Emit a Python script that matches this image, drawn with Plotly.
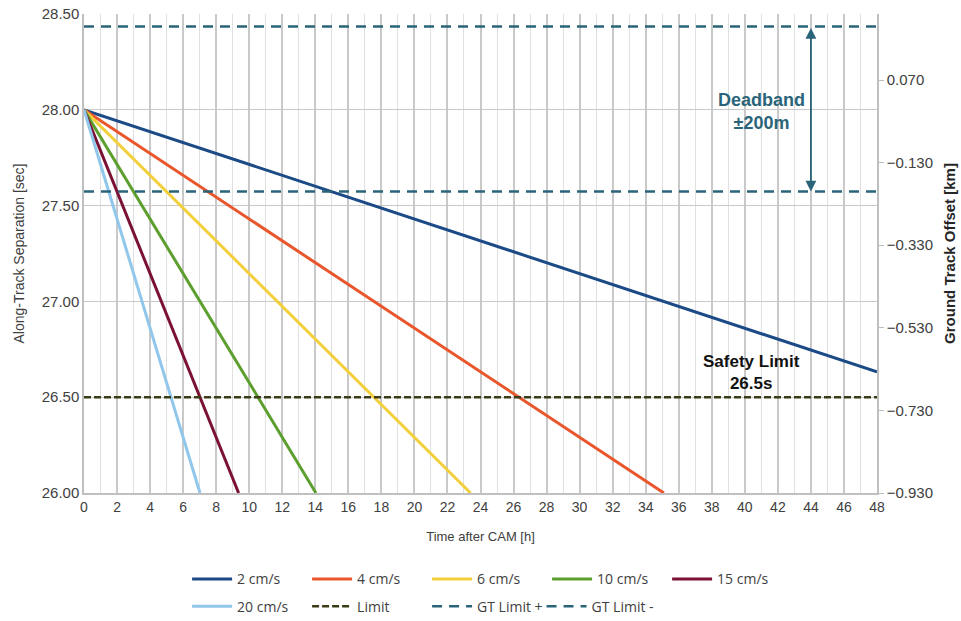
import plotly.graph_objects as go

# Drift of along-track separation after the CAM for each differential velocity
series_names = ["2 cm/s", "4 cm/s", "6 cm/s", "10 cm/s", "15 cm/s", "20 cm/s"]
series_colors = ["#1b4a86", "#e9562b", "#f3cf3c", "#5c9f2e", "#7b1233", "#90c7ea"]
start_time = [0, 0, 0, 0, 0, 0]
start_sep = [28.0, 28.0, 28.0, 28.0, 28.0, 28.0]
end_time = [48.0, 35.1, 23.4, 14.04, 9.36, 7.02]
end_sep = [26.632, 26.0, 26.0, 26.0, 26.0, 26.0]

limit_time = [0, 48]
limit_sep = [26.5, 26.5]

gt_time = [0, 48]
gt_plus = [0.2, 0.2]      # km
gt_minus = [-0.2, -0.2]   # km

x_ticks = list(range(0, 49, 2))
left_ticks = [26.0, 26.5, 27.0, 27.5, 28.0, 28.5]
right_ticks = [-0.93, -0.73, -0.53, -0.33, -0.13, 0.07]
right_range = [-0.93, 0.23]

FONT = "Liberation Sans, Arial, sans-serif"
LEG_FONT = "Open Sans, sans-serif"
GT_COLOR = "#2a6479"
TXT = "#404040"

fig = go.Figure()

# first legend row holds the first five velocities, the rest go on row two
for i, (name, col, x0, y0, x1, y1) in enumerate(
        zip(series_names, series_colors, start_time, start_sep, end_time, end_sep)):
    fig.add_trace(go.Scatter(x=[x0, x1], y=[y0, y1], mode="lines", name=name,
                             legend="legend" if i < 5 else "legend2",
                             line=dict(color=col, width=3)))

fig.add_trace(go.Scatter(x=limit_time, y=limit_sep, mode="lines", name="Limit", legend="legend2",
                         line=dict(color="#3b3b16", width=2.5, dash="7px,3px")))
fig.add_trace(go.Scatter(x=gt_time, y=gt_plus, mode="lines", name="GT Limit +", yaxis="y2",
                         legend="legend2",
                         line=dict(color=GT_COLOR, width=2.5, dash="10px,7px")))
fig.add_trace(go.Scatter(x=gt_time, y=gt_minus, mode="lines", name="GT Limit -", yaxis="y2",
                         legend="legend3",
                         line=dict(color=GT_COLOR, width=2.5, dash="10px,7px")))

# Deadband arrow between the ground-track limits
fig.add_annotation(x=44, y=gt_minus[0], ax=44, ay=gt_plus[0], xref="x", yref="y2",
                   axref="x", ayref="y2", text="", showarrow=True,
                   arrowhead=2, arrowside="end+start", arrowsize=1.2, arrowwidth=1.8,
                   arrowcolor=GT_COLOR)
fig.add_annotation(x=41.0, y=27.99, xref="x", yref="y", text="<b>Deadband<br>±200m</b>",
                   showarrow=False, font=dict(family=FONT, size=18, color=GT_COLOR),
                   align="center")
fig.add_annotation(x=40.4, y=26.63, xref="x", yref="y", text="<b>Safety Limit<br>26.5s</b>",
                   showarrow=False, font=dict(family=FONT, size=17, color="#111111"),
                   align="center")

legend_common = dict(orientation="h", xanchor="left", yanchor="top",
                     font=dict(family=LEG_FONT, size=14, color=TXT),
                     bgcolor="rgba(0,0,0,0)", itemwidth=40, tracegroupgap=0)

fig.update_layout(
    width=961, height=621,
    margin=dict(l=84, r=84, t=14, b=128, autoexpand=False),
    paper_bgcolor="white", plot_bgcolor="white",
    font=dict(family=FONT, color=TXT),
    showlegend=True,
    legend=dict(x=0.13, y=-0.147, entrywidth=65, **legend_common),
    legend2=dict(x=0.13, y=-0.204, entrywidth=65, **legend_common),
    legend3=dict(x=0.577, y=-0.204, **legend_common),
    xaxis=dict(range=[0, 48], tickvals=x_ticks, ticktext=[str(v) for v in x_ticks],
               showgrid=True, gridcolor="#c9c9c9", gridwidth=1.5,
               minor=dict(dtick=1, showgrid=True, gridcolor="#e0e0e0", gridwidth=1.2),
               showline=True, linecolor="#bfbfbf", linewidth=1.5, zeroline=False,
               ticks="", tickfont=dict(size=14, color=TXT),
               title=dict(text="Time after CAM [h]", font=dict(size=13, color=TXT), standoff=18)),
    yaxis=dict(range=[26.0, 28.5], tickvals=left_ticks, tickformat=".2f",
               showgrid=True, gridcolor="#c9c9c9", gridwidth=1.2,
               showline=True, linecolor="#bfbfbf", linewidth=1.5, zeroline=False,
               ticks="", tickfont=dict(size=15, color=TXT),
               title=dict(text="Along-Track Separation [sec]", font=dict(size=14, color=TXT), standoff=14)),
    yaxis2=dict(range=right_range, tickvals=right_ticks, tickformat=".3f",
                overlaying="y", side="right", showgrid=False, zeroline=False,
                showline=True, linecolor="#bfbfbf", linewidth=1.5,
                ticks="outside", ticklen=5, tickcolor="#bfbfbf",
                tickfont=dict(size=15, color=TXT),
                title=dict(text="<b>Ground Track Offset [km]</b>", font=dict(size=15, color="#262626"), standoff=12)),
)

fig.write_html("out.html")
